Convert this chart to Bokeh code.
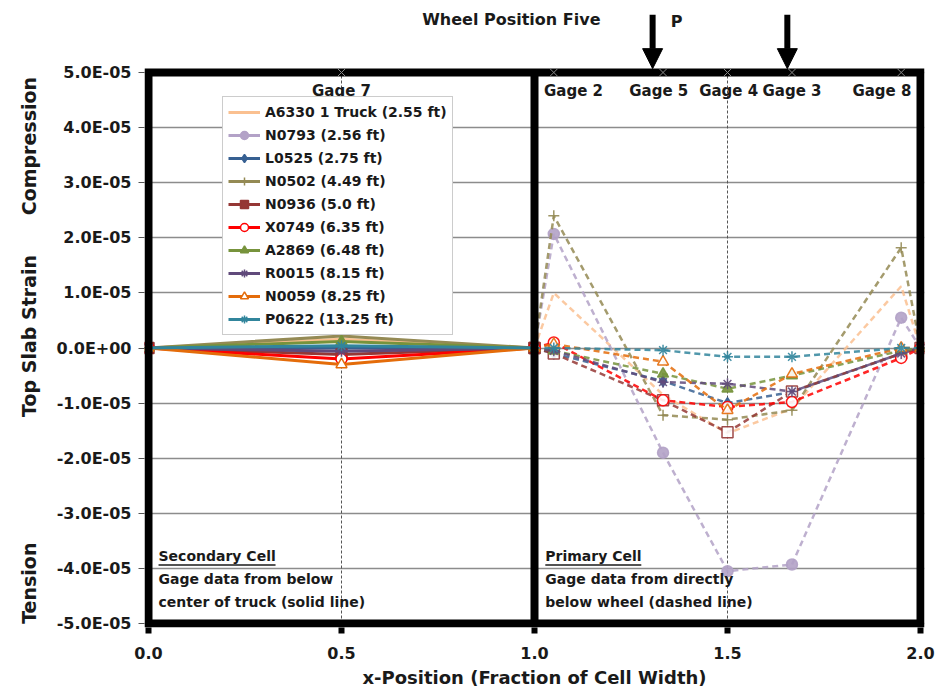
import math
from bokeh.plotting import figure
from bokeh.models import (Range1d, FixedTicker, CustomJSTickFormatter, PrintfTickFormatter,
                          Label, Arrow, NormalHead, Legend)
from bokeh.embed import file_html
from bokeh.resources import INLINE

FONT = "DejaVu Sans"

# ---------------- data ----------------
series_names = ["A6330 1 Truck (2.55 ft)", "N0793 (2.56 ft)", "L0525 (2.75 ft)",
                "N0502 (4.49 ft)", "N0936 (5.0 ft)", "X0749 (6.35 ft)",
                "A2869 (6.48 ft)", "R0015 (8.15 ft)", "N0059 (8.25 ft)",
                "P0622 (13.25 ft)"]

# secondary cell (solid lines)
x_secondary = [0.0, 0.5, 1.0]
sec_A6330 = [0.0, 0.16e-5, 0.0]
sec_N0793 = [0.0, 0.02e-5, 0.0]
sec_L0525 = [0.0, 0.0, 0.0]
sec_N0502 = [0.0, 0.22e-5, 0.0]
sec_N0936 = [0.0, -0.12e-5, 0.0]
sec_X0749 = [0.0, -0.2e-5, 0.0]
sec_A2869 = [0.0, 0.12e-5, 0.0]
sec_R0015 = [0.0, -0.06e-5, 0.0]
sec_N0059 = [0.0, -0.3e-5, 0.0]
sec_P0622 = [0.0, 0.04e-5, 0.0]

# primary cell (dashed lines)
x_primary = [1.0, 1.05, 1.333, 1.5, 1.667, 1.95, 2.0]
pri_A6330 = [0.0, 1.0e-5, -0.85e-5, -1.55e-5, -1.1e-5, 1.12e-5, 0.0]
pri_N0793 = [0.0, 2.07e-5, -1.9e-5, -4.05e-5, -3.93e-5, 0.55e-5, 0.0]
pri_L0525 = [0.0, -0.1e-5, -0.6e-5, -1.0e-5, -0.8e-5, -0.1e-5, 0.0]
pri_N0502 = [0.0, 2.4e-5, -1.22e-5, -1.3e-5, -1.13e-5, 1.82e-5, 0.0]
pri_N0936 = [0.0, -0.1e-5, -0.95e-5, -1.53e-5, -0.79e-5, -0.1e-5, 0.0]
pri_X0749 = [0.0, 0.1e-5, -0.95e-5, -1.07e-5, -0.98e-5, -0.18e-5, 0.0]
pri_A2869 = [0.0, -0.05e-5, -0.47e-5, -0.74e-5, -0.5e-5, -0.05e-5, 0.0]
pri_R0015 = [0.0, -0.05e-5, -0.62e-5, -0.65e-5, -0.79e-5, -0.1e-5, 0.0]
pri_N0059 = [0.0, 0.07e-5, -0.25e-5, -1.13e-5, -0.47e-5, 0.0, 0.0]
pri_P0622 = [0.0, 0.0, -0.04e-5, -0.16e-5, -0.16e-5, 0.0, 0.0]

gage_names = ["Gage 7", "Gage 2", "Gage 5", "Gage 4", "Gage 3", "Gage 8"]
gage_x = [0.5, 1.05, 1.333, 1.5, 1.667, 1.95]
gage_label_x = [0.5, 1.101, 1.322, 1.503, 1.667, 1.9]
wheel_x = [1.306, 1.655]

y_ticks = [-5e-5, -4e-5, -3e-5, -2e-5, -1e-5, 0.0, 1e-5, 2e-5, 3e-5, 4e-5, 5e-5]
x_ticks = [0.0, 0.5, 1.0, 1.5, 2.0]

sec_values = [sec_A6330, sec_N0793, sec_L0525, sec_N0502, sec_N0936, sec_X0749,
              sec_A2869, sec_R0015, sec_N0059, sec_P0622]
pri_values = [pri_A6330, pri_N0793, pri_L0525, pri_N0502, pri_N0936, pri_X0749,
              pri_A2869, pri_R0015, pri_N0059, pri_P0622]

colors = ["#FAC090", "#B3A2C7", "#376092", "#948A54", "#953735", "#FF0000",
          "#77933C", "#604A7B", "#E46C0A", "#31859C"]
markers = [None, "circle", "diamond", "cross", "square", "circle",
           "triangle", "asterisk", "triangle", "asterisk"]
fills_left = [None, "#B3A2C7", "#376092", "#948A54", "#953735", "white",
              "#77933C", "#604A7B", "white", "#31859C"]
fills_right = [None, "#B3A2C7", "#376092", "#948A54", "white", "white",
               "#77933C", "#604A7B", "white", "#31859C"]

# ---------------- layout (pixels) ----------------
PX_X = 386.0            # pixels per x unit
PX_Y = 551.0 / 1e-4     # pixels per y unit
EDGE = 4                # half width of the thick frame line
TOP_EXTRA = 72          # space above the drawn frame used for annotations

x0, x1 = x_ticks[0], x_ticks[-1]
y0, y1 = y_ticks[0], y_ticks[-1]

p = figure(width=939, height=691, output_backend="svg", toolbar_location=None,
           x_range=Range1d(x0 - EDGE / PX_X, x1 + EDGE / PX_X),
           y_range=Range1d(y0 - EDGE / PX_Y, y1 + TOP_EXTRA / PX_Y),
           min_border_left=144, min_border_right=15, min_border_top=0,
           min_border_bottom=64, background_fill_color="white",
           border_fill_color="white")
p.title.visible = False
p.outline_line_color = None

p.xgrid.visible = False
p.ygrid.grid_line_color = "#8c8c8c"
p.ygrid.grid_line_width = 1.5
p.ygrid.ticker = FixedTicker(ticks=y_ticks)

p.xaxis.ticker = FixedTicker(ticks=x_ticks)
p.yaxis.ticker = FixedTicker(ticks=y_ticks)
p.xaxis.formatter = PrintfTickFormatter(format="%.1f")
p.yaxis.formatter = CustomJSTickFormatter(code="""
const s = tick.toExponential(1).toUpperCase();
const parts = s.split("E");
const e = parts[1];
const sign = e[0] === "-" ? "-" : "+";
let d = e.replace("+", "").replace("-", "");
if (d.length < 2) { d = "0" + d; }
return parts[0] + "E" + sign + d;
""")
p.axis.minor_tick_line_color = None
p.axis.axis_line_color = None
p.xaxis.major_tick_line_width = 6
p.xaxis.major_tick_line_color = "black"
p.xaxis.major_tick_out = 6
p.xaxis.major_tick_in = 0
p.yaxis.major_tick_line_width = 1
p.yaxis.major_tick_line_color = "#555555"
p.yaxis.major_tick_out = 6
p.yaxis.major_tick_in = 0
p.axis.major_label_text_font = FONT
p.axis.major_label_text_font_style = "bold"
p.axis.major_label_text_font_size = "16px"
p.axis.major_label_text_color = "#1a1a1a"
p.xaxis.major_label_standoff = 13
p.yaxis.major_label_standoff = 7

p.axis.axis_label_text_font = FONT
p.axis.axis_label_text_font_style = "bold"
p.axis.axis_label_text_color = "#1a1a1a"
p.xaxis.axis_label = "x-Position (Fraction of Cell Width)"
p.xaxis.axis_label_text_font_size = "18px"
p.xaxis.axis_label_standoff = 5
NB = "\u00a0"
p.yaxis.axis_label = ("Tension" + NB * 19 + "Top Slab Strain" + NB * 6 +
                      "Compression" + NB * 11)
p.yaxis.axis_label_text_font_size = "19px"
p.yaxis.axis_label_standoff = 14

# thin dashed vertical reference lines at the gage 7 / gage 4 positions
p.segment(x0=[gage_x[0], gage_x[3]], y0=[y0, y0], x1=[gage_x[0], gage_x[3]],
          y1=[y1, y1], line_color="#555555", line_width=1, line_dash="3 2")

legend_items = []
for name, yv, c, m, f in zip(series_names, pri_values, colors, markers, fills_right):
    p.line(x_primary, yv, line_color=c, line_width=2.5, line_dash="6 4", alpha=0.85)
    if m is not None:
        p.scatter(x_primary, yv, marker=m, size=11, line_color=c, fill_color=f,
                  line_width=1.5, alpha=0.9)

for name, yv, c, m, f in zip(series_names, sec_values, colors, markers, fills_left):
    rs = [p.line(x_secondary, yv, line_color=c, line_width=3)]
    if m is not None:
        rs.append(p.scatter(x_secondary, yv, marker=m, size=11, line_color=c,
                            fill_color=f, line_width=1.5))
    legend_items.append((name, rs))

# thick cell frame and divider
p.line([x0, x0, x1, x1, x0], [y0, y1, y1, y0, y0], line_color="black",
       line_width=8, line_join="miter", line_cap="square")
p.segment(x0=[x_ticks[2]], y0=[y0], x1=[x_ticks[2]], y1=[y1],
          line_color="black", line_width=8)

# gage markers on top of frame
p.scatter(gage_x, [y1] * len(gage_x), marker="x", size=12, line_color="#888888",
          line_width=1)

legend = Legend(items=legend_items, location=(78, 292))
legend.label_text_font = FONT
legend.label_text_font_style = "bold"
legend.label_text_font_size = "14px"
legend.label_text_color = "#1a1a1a"
legend.glyph_width = 32
legend.glyph_height = 20
legend.label_height = 20
legend.spacing = 3
legend.padding = 5
legend.margin = 0
legend.border_line_color = "#9a9a9a"
legend.border_line_width = 1
legend.background_fill_color = "white"
legend.background_fill_alpha = 1.0
p.add_layout(legend)


def label(x, y, text, size="15px", align="left", style="bold"):
    p.add_layout(Label(x=x, y=y, text=text, text_font=FONT, text_font_style=style,
                       text_font_size=size, text_align=align, text_baseline="middle",
                       text_color="#1a1a1a"))


for gx, gn in zip(gage_label_x, gage_names):
    label(gx, 4.66e-5, gn, size="15px", align="center")

# cell notes (headings underlined)
note_y = [-3.775e-5, -4.19e-5, -4.61e-5]
sec_note = ["Secondary Cell", "Gage data from below", "center of truck (solid line)"]
pri_note = ["Primary Cell", "Gage data from directly", "below wheel (dashed line)"]
sec_note_x, pri_note_x = 0.026, 1.028
for ny, st, pt in zip(note_y, sec_note, pri_note):
    label(sec_note_x, ny, st, size="14px")
    label(pri_note_x, ny, pt, size="14px")
underline_y = note_y[0] - 9 / PX_Y
p.segment(x0=[sec_note_x, pri_note_x], y0=[underline_y] * 2,
          x1=[sec_note_x + 117 / PX_X, pri_note_x + 96 / PX_X], y1=[underline_y] * 2,
          line_color="#1a1a1a", line_width=1.5)

# title, load marker and wheel arrows above the frame
label(0.94, 5.97e-5, "Wheel Position Five", size="16px", align="center")
label(1.368, 5.93e-5, "P", size="16px", align="center")
for wx in wheel_x:
    p.add_layout(Arrow(x_start=wx, y_start=6.05e-5, x_end=wx, y_end=5.07e-5,
                       line_width=6, line_color="black",
                       end=NormalHead(size=20, fill_color="black", line_color="black")))

open("out.html", "w").write(file_html(p, INLINE))
